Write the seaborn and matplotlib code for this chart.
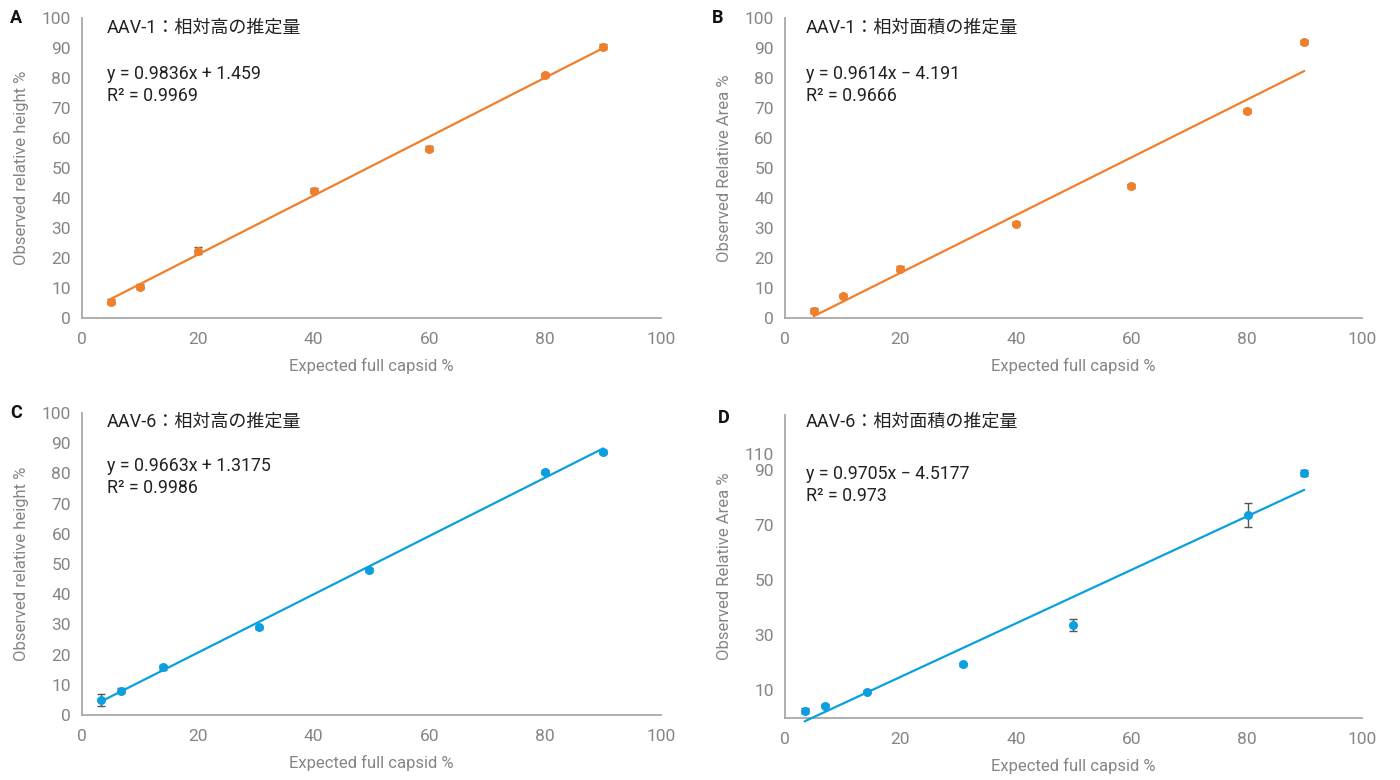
import numpy as np
import pandas as pd
import seaborn as sns
import matplotlib.pyplot as plt

# ---------------------------------------------------
# Data
# ---------------------------------------------------
a_x = [5, 10, 20, 40, 60, 80, 90]
a_y = [5.5, 10.5, 22.5, 42.5, 56.5, 81.0, 90.5]
a_err = [0.8, 0.8, 1.2, 0.8, 0.8, 0.8, 0.8]

b_x = [5, 10, 20, 40, 60, 80, 90]
b_y = [2.5, 7.5, 16.5, 31.5, 44.0, 69.0, 92.0]
b_err = [0.8, 0.6, 0.8, 0.6, 0.6, 0.8, 0.6]

c_x = [3.3, 6.8, 14.0, 30.5, 49.5, 80.0, 90.0]
c_y = [5.0, 8.0, 15.8, 29.0, 48.0, 80.5, 87.0]
c_err = [2.0, 0.8, 0.8, 0.6, 0.8, 0.6, 0.6]

d_x = [3.4, 6.9, 14.2, 30.8, 49.9, 80.2, 90.0]
d_y = [2.7, 4.5, 9.6, 19.5, 33.6, 73.6, 89.0]
d_err = [0.8, 0.6, 0.6, 0.6, 2.2, 4.3, 1.2]

# trendline coefficients (slope, intercept, r2)
fits = {
    "A": (0.9836, 1.459, 0.9969),
    "B": (0.9614, -4.191, 0.9666),
    "C": (0.9663, 1.3175, 0.9986),
    "D": (0.9705, -4.5177, 0.973),
}
eq_labels = {
    "A": ["y = 0.9836x + 1.459", "R² = 0.9969"],
    "B": ["y = 0.9614x − 4.191", "R² = 0.9666"],
    "C": ["y = 0.9663x + 1.3175", "R² = 0.9986"],
    "D": ["y = 0.9705x − 4.5177", "R² = 0.973"],
}
titles = {
    "A": "AAV-1：相対高の推定量",
    "B": "AAV-1：相対面積の推定量",
    "C": "AAV-6：相対高の推定量",
    "D": "AAV-6：相対面積の推定量",
}
ylabels = {
    "A": "Observed relative height %",
    "B": "Observed Relative Area %",
    "C": "Observed relative height %",
    "D": "Observed Relative Area %",
}
x_ticks = [0, 20, 40, 60, 80, 100]
y_ticks = [0, 10, 20, 30, 40, 50, 60, 70, 80, 90, 100]
d_y_ticks = [10, 30, 50, 70, 90, 96]
d_y_ticklabels = ["10", "30", "50", "70", "90", "110"]

ORANGE = "#F07F2A"
BLUE = "#0AA0E0"
GRAY_TXT = "#858585"
GRAY_AX = "#A8A8A8"

sns.set_theme(style="white")
plt.rcParams['font.family'] = ['Roboto', 'Noto Sans CJK JP', 'DejaVu Sans']

fig = plt.figure(figsize=(14, 7.8), dpi=100)

# axes rectangles in figure fraction
rects = {
    "A": [0.0586, 0.5923, 0.4136, 0.3846],
    "B": [0.5607, 0.5923, 0.4121, 0.3846],
    "C": [0.0586, 0.0833, 0.4136, 0.3872],
    "D": [0.5607, 0.0795, 0.4121, 0.3885],
}
panel_data = {
    "A": (a_x, a_y, a_err, ORANGE),
    "B": (b_x, b_y, b_err, ORANGE),
    "C": (c_x, c_y, c_err, BLUE),
    "D": (d_x, d_y, d_err, BLUE),
}
# text positions (axes fraction): x, title y, eq line 1 y, eq line 2 y
text_pos = {
    "A": (0.043, 0.967, 0.813, 0.740),
    "B": (0.036, 0.967, 0.813, 0.740),
    "C": (0.043, 0.970, 0.825, 0.752),
    "D": (0.036, 0.977, 0.805, 0.734),
}
letter_pos = {"A": (10, 18), "B": (712, 18), "C": (10, 413), "D": (718, 418)}

for key in ["A", "B", "C", "D"]:
    ax = fig.add_axes(rects[key])
    xs, ys, errs, col = panel_data[key]
    df = pd.DataFrame({"x": xs, "y": ys, "err": errs})

    # error bars
    ax.errorbar(df["x"], df["y"], yerr=df["err"], fmt="none",
                ecolor="#555555", elinewidth=1, capsize=3, capthick=1, zorder=2)

    # trendline
    slope, icpt, r2 = fits[key]
    fx = np.array([min(xs), max(xs)])
    fy = slope * fx + icpt
    sns.lineplot(x=fx, y=fy, color=col, linewidth=1.6, ax=ax, zorder=3)
    for ln in ax.lines:
        ln.set_clip_on(False)

    sns.scatterplot(data=df, x="x", y="y", color=col, s=42, linewidth=0,
                    ax=ax, zorder=4)

    ax.set_xlim(0, 100)
    ax.set_xticks(x_ticks)
    if key == "D":
        ax.set_ylim(0, 110)
        ax.set_yticks(d_y_ticks)
        ax.set_yticklabels(d_y_ticklabels)
    else:
        ax.set_ylim(0, 100)
        ax.set_yticks(y_ticks)

    ax.tick_params(axis="both", length=0, labelsize=12.5, labelcolor=GRAY_TXT)
    ax.tick_params(axis="x", pad=10)
    ax.tick_params(axis="y", pad=8)
    sns.despine(ax=ax)
    for sp in ["left", "bottom"]:
        ax.spines[sp].set_color(GRAY_AX)
        ax.spines[sp].set_linewidth(1.3)

    ax.set_xlabel("Expected full capsid %", fontsize=12, color=GRAY_TXT, labelpad=8)
    ax.set_ylabel(ylabels[key], fontsize=12, color=GRAY_TXT, labelpad=9)

    tx, ty, e1, e2 = text_pos[key]
    ax.text(tx, ty, titles[key], transform=ax.transAxes, fontsize=13,
            color="#222222", va="center", ha="left")
    ax.text(tx, e1, eq_labels[key][0], transform=ax.transAxes, fontsize=12.8,
            color="#222222", va="center", ha="left")
    ax.text(tx, e2, eq_labels[key][1], transform=ax.transAxes, fontsize=12.8,
            color="#222222", va="center", ha="left")

    lx, ly = letter_pos[key]
    fig.text(lx / 1400, 1 - ly / 780, key, fontsize=13, fontweight="bold",
             color="#111111", va="center", ha="left")

fig.savefig("out.png", dpi=100)
plt.close(fig)
